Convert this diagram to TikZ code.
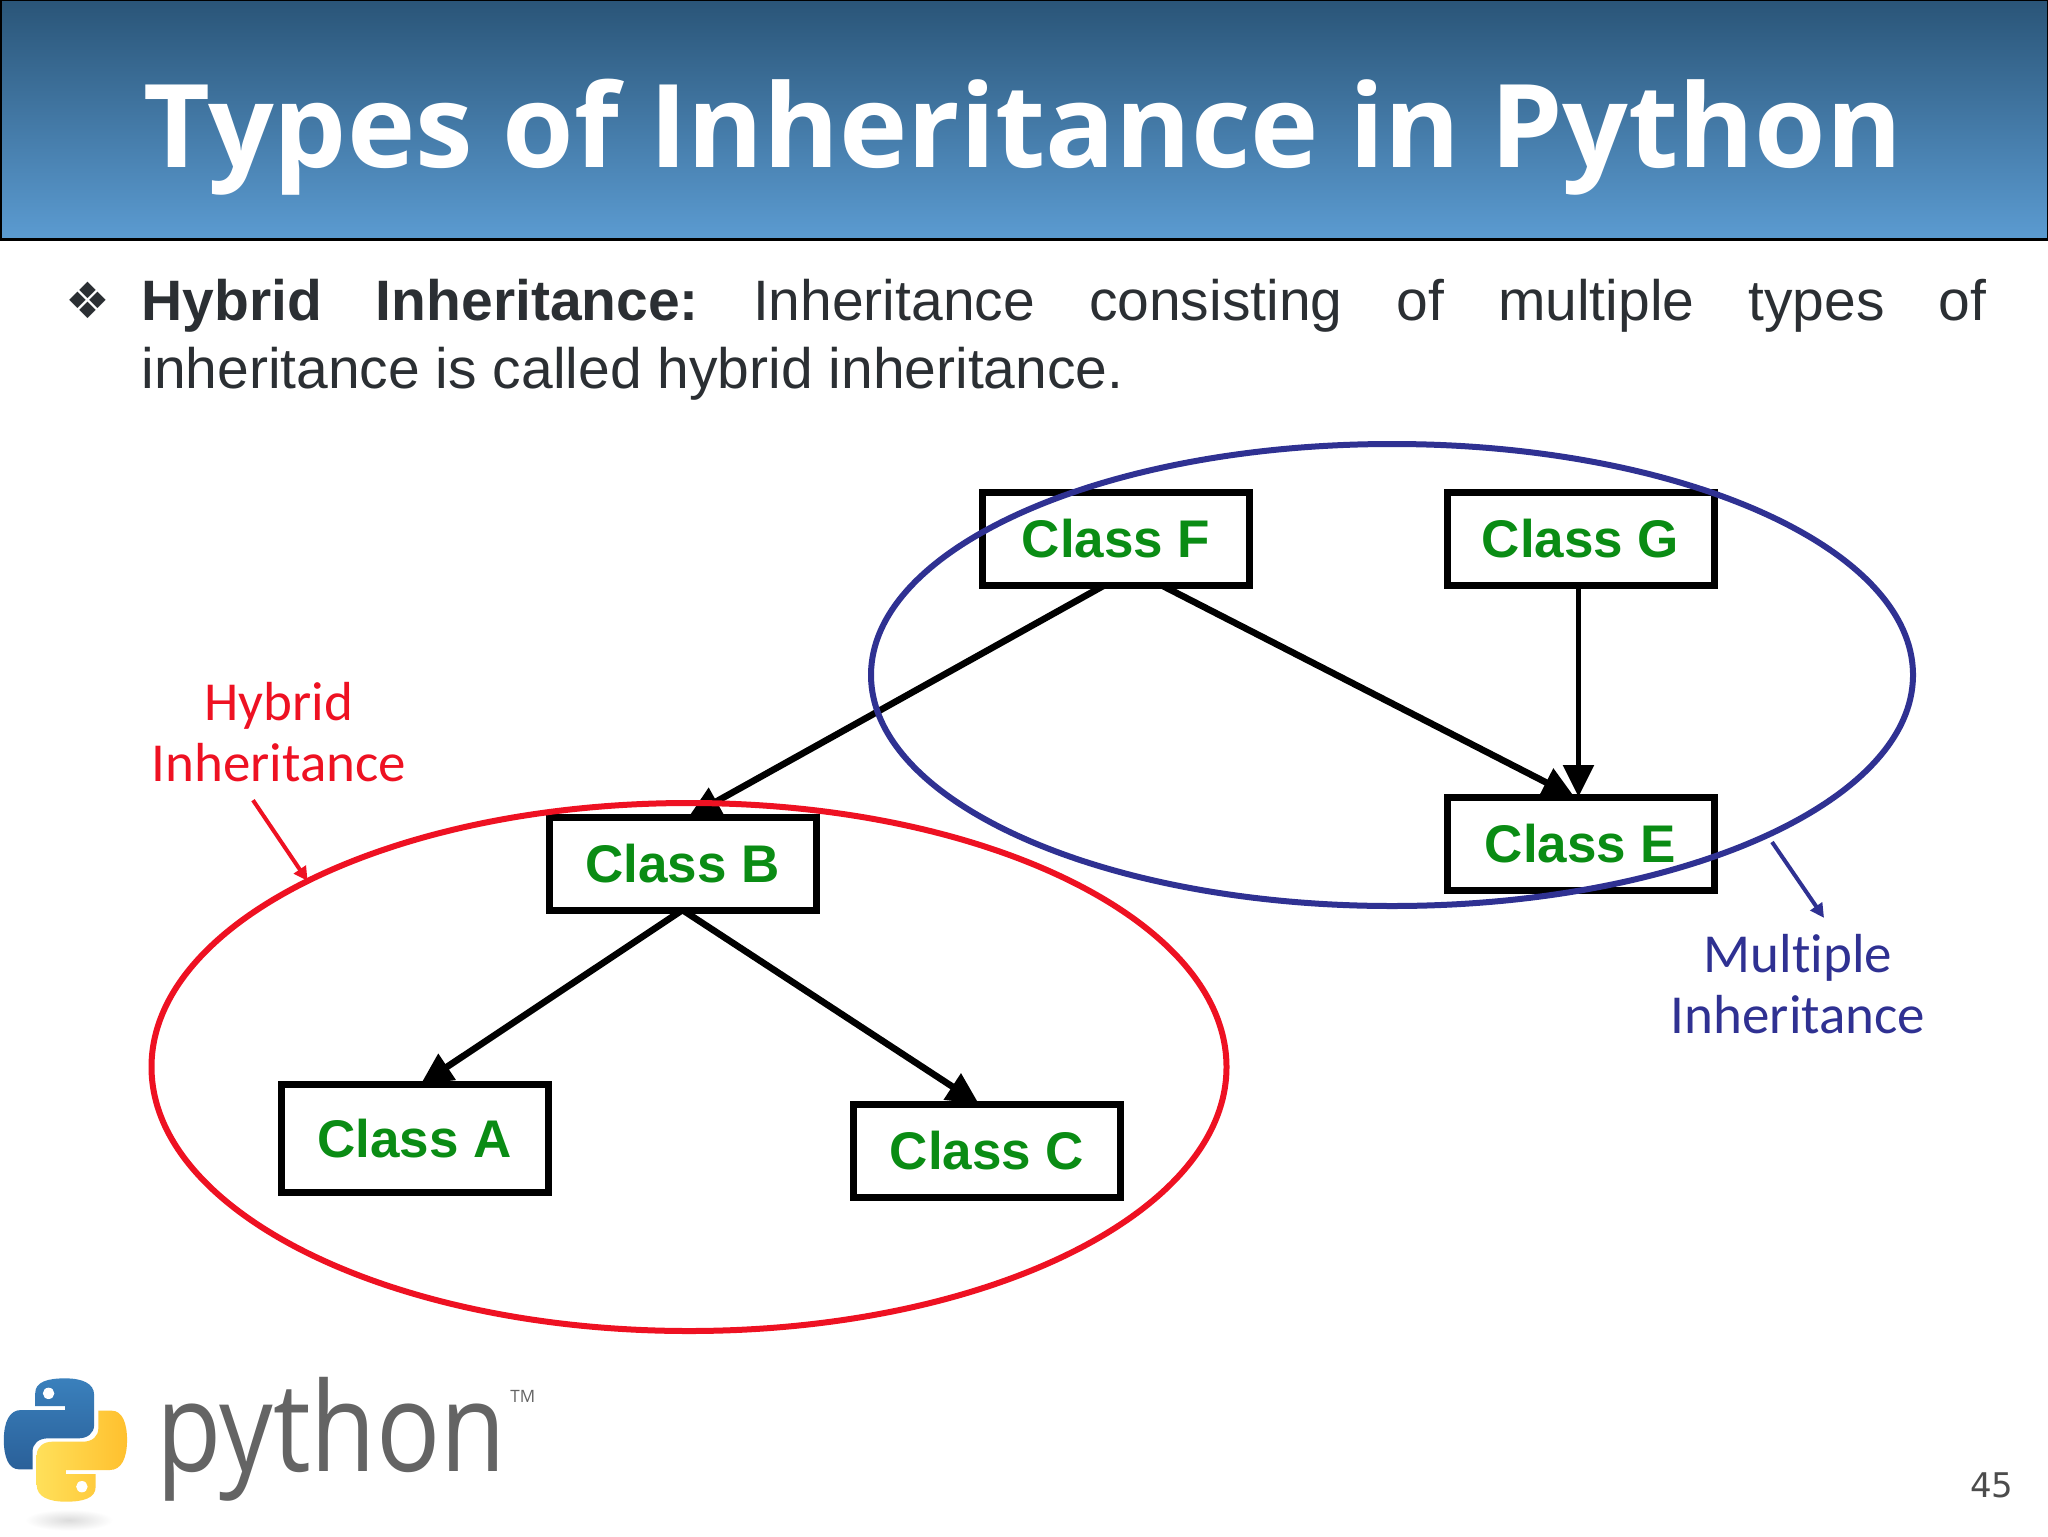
\documentclass[tikz,border=0pt]{standalone}
\usepackage{fontspec}
\setmainfont{Liberation Sans}
\newfontfamily\titlefont{Open Sans}
\newfontfamily\labelfont[Ligatures=NoCommon]{Carlito}
\newfontfamily\pagefont{DejaVu Sans}
\usetikzlibrary{arrows.meta,shapes.geometric,calc}
\definecolor{hdtop}{HTML}{2A5578}
\definecolor{hdbot}{HTML}{5B9BD1}
\definecolor{bodyc}{HTML}{2B2F33}
\definecolor{grn}{HTML}{0A8C14}
\definecolor{navyring}{HTML}{2F3192}
\definecolor{redring}{HTML}{EE1122}
\definecolor{logogray}{HTML}{646464}
\definecolor{snakeA}{HTML}{3A80BC}
\definecolor{snakeB}{HTML}{2A6099}
\definecolor{snakeC}{HTML}{FFE05A}
\definecolor{snakeD}{HTML}{FFC02E}
\tikzset{
  classbox/.style={draw=black,line width=3.5pt,fill=white,rectangle,inner sep=0pt,outer sep=0pt,minimum width=133.5pt,minimum height=46.5pt,
    text=grn,font=\fontsize{26.5}{30}\selectfont\bfseries},
  link/.style={draw=black,line width=3.3pt,-{Triangle[length=16pt,width=15pt]},shorten >=0pt},
  ring/.style={ellipse,draw,line width=3pt,inner sep=0pt,outer sep=0pt},
  tag/.style={align=center,inner sep=0pt,font=\labelfont\fontsize{27.5}{30.5}\selectfont},
  pointer/.style={line width=2pt,-{Triangle[length=7pt,width=7pt]}}
}
\begin{document}
\begin{tikzpicture}[x=0.5pt,y=-0.5pt]
\useasboundingbox[fill=white] (0,0) rectangle (2048,1536);
% header
\shade[top color=hdtop,bottom color=hdbot,draw=black,line width=1pt] (0.5,0.5) rectangle (2047.5,238.5);
\draw[black,line width=1.5pt] (0,239) -- (2048,239);
\node[anchor=base,inner sep=0pt,text=white,font=\titlefont\bfseries\fontsize{57.8}{60}\selectfont] (title) at (1023,167) {Types of Inheritance in Python};
% bullet
\node[anchor=base,inner sep=0pt,text=bodyc,font=\pagefont\fontsize{25}{28}\selectfont] (bul) at (88,318) {❖};
\node[anchor=base west,inner sep=0pt,text=bodyc,font=\fontsize{28.5}{34}\selectfont] (bodytext) at (141,320)
  {\parbox[t]{922.5pt}{\frenchspacing\textbf{Hybrid Inheritance:} Inheritance consisting of multiple types of\linebreak inheritance is called hybrid inheritance.}};
% boxes
\node[classbox] (F) at (1116,539) {Class F};
\node[classbox] (G) at (1580.5,539) {Class G};
\node[classbox] (E) at (1580.5,843.5) {Class E};
\node[classbox] (B) at (682.5,863.5) {Class B};
\node[classbox,minimum height=54pt] (A) at (414.5,1138.5) {Class A};
\node[classbox] (C) at (987,1150.5) {Class C};
% arrows
\draw[link] ([xshift=-6pt]F.south) -- ([xshift=3pt]B.north);
\draw[link] ([xshift=23pt]F.south) -- ([xshift=-3pt]E.north);
\draw[link,line width=2.8pt] ([xshift=-1pt]G.south) -- ([xshift=-1pt]E.north);
\draw[link] (B.south) -- ([xshift=3pt]A.north);
\draw[link] (B.south) -- ([xshift=-4pt]C.north);
% rings
\node[ring,draw=navyring,minimum width=521pt,minimum height=231pt] (mring) at (1392,675) {};
\node[ring,draw=redring,minimum width=537.5pt,minimum height=264pt] (hring) at (689,1067) {};
% tags
\node[tag,text=redring] (hyb) at (279,732) {Hybrid\\Inheritance};
\node[tag,text=navyring] (mul) at (1798,984) {Multiple\\Inheritance};
\draw[pointer,draw=redring,fill=redring] ([xshift=-13pt,yshift=-9pt]hyb.south) -- (hring.154.5);
\coordinate (mstart) at (1772,842);
\draw[pointer,draw=navyring,fill=navyring] (mstart) -- ([xshift=13pt,yshift=8pt]mul.north);
% python logo
\begin{scope}[shift={(0,1340)},x=0.19135pt,y=-0.16667pt]
  \shade[inner color=black!14,outer color=white,draw=none] (180,540) ellipse (115 and 32);
  \shade[left color=snakeA,right color=snakeB,shading angle=0]
    (92,198) -- (92,160) .. controls (92,125) and (125,115) .. (170,115)
    .. controls (215,115) and (246,130) .. (246,165) -- (246,255)
    .. controls (246,280) and (228,295) .. (205,295) -- (125,295)
    .. controls (100,295) and (85,312) .. (85,335) -- (85,388) -- (50,388)
    .. controls (22,388) and (10,350) .. (10,300)
    .. controls (10,245) and (25,210) .. (55,210) -- (170,210) -- (170,198) -- cycle;
  \shade[left color=snakeC,right color=snakeD]
    (250,402) -- (250,440) .. controls (250,475) and (217,485) .. (172,485)
    .. controls (127,485) and (96,470) .. (96,435) -- (96,345)
    .. controls (96,320) and (114,305) .. (137,305) -- (217,305)
    .. controls (242,305) and (257,288) .. (257,265) -- (257,212) -- (292,212)
    .. controls (320,212) and (332,250) .. (332,300)
    .. controls (332,355) and (317,390) .. (287,390) -- (172,390) -- (172,402) -- cycle;
  \fill[white] (127,160) ellipse (15 and 17);
  \fill[white] (214,440) ellipse (15 and 17);
\end{scope}
\node[anchor=base west,inner sep=0pt,text=logogray,xscale=0.86,font=\titlefont\fontsize{62}{62}\selectfont] (py) at (156,1471) {python};
\node[anchor=base west,inner sep=0pt,text=logogray,font=\titlefont\fontsize{8.5}{9}\selectfont] (tm) at (510,1402) {TM};
% page number
\node[anchor=base east,inner sep=0pt,text=black!70,font=\pagefont\fontsize{17}{18}\selectfont] (pg) at (2014,1497) {45};
\end{tikzpicture}
\end{document}
